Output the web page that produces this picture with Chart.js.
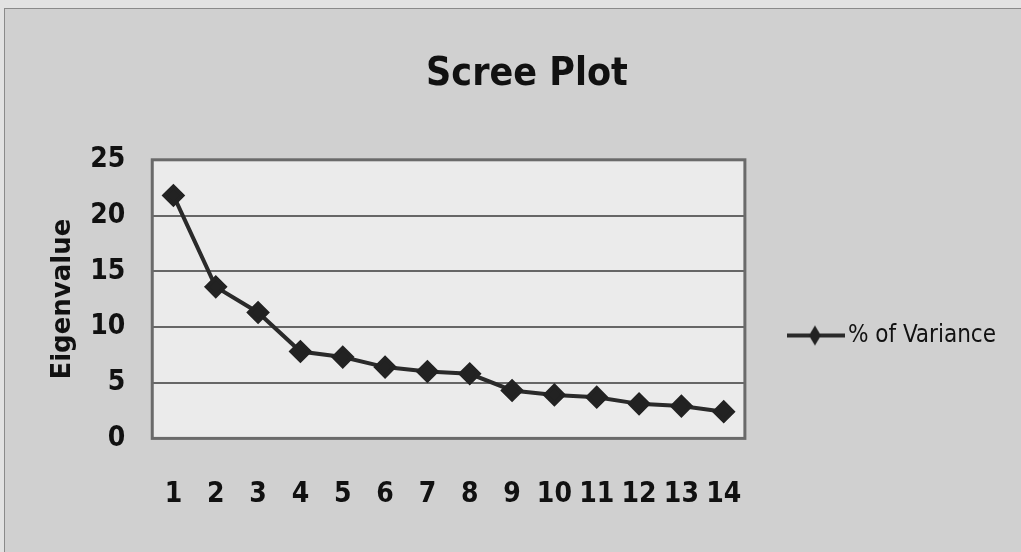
<!DOCTYPE html>
<html>
<head>
<meta charset="utf-8">
<script src="https://cdn.jsdelivr.net/npm/chart.js@4/dist/chart.umd.min.js"></script>
<style>
html,body{margin:0;padding:0;background:#d0d0d0;}
canvas{display:block;}
</style>
</head>
<body>
<canvas id="c" width="1021" height="552"></canvas>
<script>
const components = ['1','2','3','4','5','6','7','8','9','10','11','12','13','14'];
const variance = [21.8, 13.6, 11.3, 7.8, 7.3, 6.4, 6.0, 5.8, 4.3, 3.9, 3.7, 3.1, 2.9, 2.4];
const yTicks = [0, 5, 10, 15, 20, 25];
const seriesName = '% of Variance';
const COND = '"DejaVu Sans Condensed", "DejaVu Sans", sans-serif';
const WIDE = '"DejaVu Sans", sans-serif';

function legendSymbol(){
  const cv = document.createElement('canvas');
  cv.width = 58; cv.height = 22;
  const g = cv.getContext('2d');
  g.strokeStyle = '#2a2a2a'; g.lineWidth = 4;
  g.beginPath(); g.moveTo(0,11); g.lineTo(58,11); g.stroke();
  g.fillStyle = '#222';
  g.beginPath(); g.moveTo(28,1); g.lineTo(34,11); g.lineTo(28,21); g.lineTo(22,11); g.closePath(); g.fill();
  return cv;
}

const frame = {
  id:'frame',
  beforeDraw(chart){
    const {ctx, chartArea:a} = chart;
    ctx.save();
    ctx.fillStyle = '#e2e2e2';
    ctx.fillRect(0,0,chart.width,chart.height);
    ctx.fillStyle = '#d0d0d0';
    ctx.fillRect(5,9,chart.width-5,chart.height-9);
    ctx.strokeStyle = '#8a8a8a'; ctx.lineWidth = 1;
    ctx.strokeRect(4.5,8.5,chart.width,chart.height);
    ctx.fillStyle = '#ebebeb';
    ctx.fillRect(a.left,a.top,a.right-a.left,a.bottom-a.top);
    ctx.restore();
  },
  beforeDatasetsDraw(chart){
    const {ctx, chartArea:a} = chart;
    ctx.save();
    ctx.strokeStyle = '#6a6a6a'; ctx.lineWidth = 3;
    ctx.strokeRect(a.left,a.top,a.right-a.left,a.bottom-a.top);
    ctx.restore();
  }
};

new Chart(document.getElementById('c'), {
  type:'line',
  data:{
    labels: components,
    datasets:[{
      label: seriesName,
      data: variance,
      borderColor:'#2a2a2a',
      backgroundColor:'#222',
      borderWidth:4,
      pointStyle:'rectRot',
      pointRadius:9,
      pointBackgroundColor:'#222',
      pointBorderColor:'#222',
      tension:0
    }]
  },
  plugins:[frame],
  options:{
    responsive:false,
    animation:false,
    layout:{padding:{left:48,right:15,top:51,bottom:0}},
    plugins:{
      title:{display:true,text:'Scree Plot',color:'#111',font:{family:COND,size:39,weight:'bold'},padding:{top:0,bottom:62}},
      legend:{
        position:'right',
        maxWidth:300,
        title:{display:true,text:' ',font:{size:10},padding:28},
        labels:{
          usePointStyle:true,
          pointStyle: legendSymbol(),
          pointStyleWidth:40,
          color:'#111',
          font:{family:COND,size:24},
          padding:51
        }
      },
      tooltip:{enabled:false}
    },
    scales:{
      x:{
        offset:true,
        grid:{display:false,drawTicks:false},
        border:{display:false},
        ticks:{color:'#111',font:{family:COND,size:28,weight:'bold'},padding:40,maxRotation:0,autoSkip:false}
      },
      y:{
        min:0,max:25,
        grid:{color:'#666666',lineWidth:2,drawTicks:false},
        border:{display:false},
        ticks:{stepSize:5,color:'#111',font:{family:COND,size:28,weight:'bold'},padding:27,
          callback:(v)=> yTicks.includes(v)? String(v) : ''},
        title:{display:true,text:'Eigenvalue',color:'#111',font:{family:WIDE,size:26,weight:'bold'},padding:{top:0,bottom:-16}}
      }
    }
  }
});
</script>
</body>
</html>
